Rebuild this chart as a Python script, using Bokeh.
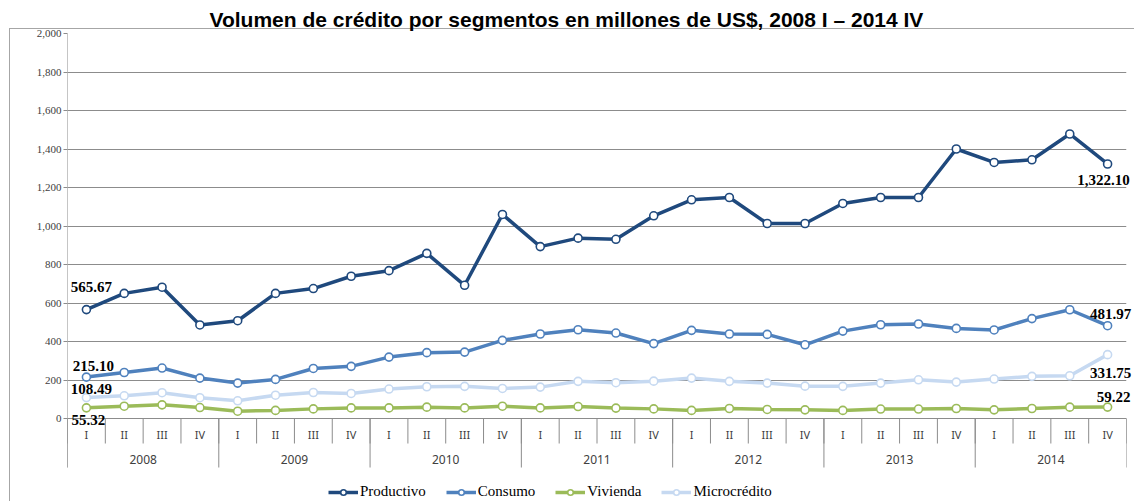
from bokeh.plotting import figure
from bokeh.models import (FactorRange, Range1d, FixedTicker, NumeralTickFormatter,
                          ColumnDataSource, Legend, LegendItem)
from bokeh.core.properties import value
from bokeh.embed import file_html
from bokeh.resources import INLINE

# ---------------- data ----------------
years = ["2008", "2009", "2010", "2011", "2012", "2013", "2014"]
quarters = ["I", "II", "III", "IV"]

productivo = [565.67, 650, 682, 486, 508, 650, 675, 739, 768, 858, 692, 1060,
              893, 937, 931, 1053, 1136, 1148, 1013, 1013, 1117, 1148, 1148, 1400,
              1330, 1344, 1478, 1322.10]
consumo = [215.10, 239, 262, 210, 184, 203, 260, 271, 319, 342, 345, 406,
           439, 461, 444, 389, 458, 439, 437, 383, 454, 487, 491, 468,
           460, 519, 565, 481.97]
vivienda = [55.32, 64, 71, 57, 38, 42, 50, 55, 55, 59, 55, 64,
            55, 62, 54, 50, 42, 52, 47, 45, 42, 49, 49, 52,
            45, 52, 59, 59.22]
microcredito = [108.49, 118, 134, 108, 92, 121, 135, 130, 153, 165, 167, 156,
                163, 193, 186, 194, 210, 193, 184, 168, 167, 184, 201, 189,
                205, 219, 222, 331.75]

series_names = ["Productivo", "Consumo", "Vivienda", "Microcrédito"]
series_values = [productivo, consumo, vivienda, microcredito]
y_ticks = list(range(0, 2001, 200))

title_text = "Volumen de crédito por segmentos en millones de US$, 2008 I – 2014 IV"

# ---------------- styles ----------------
colors = ["#1F497D", "#4F81BD", "#9BBB59", "#C6D9F1"]
grid_col = "#8c8c8c"
# data-label pixel offsets (first point, last point) per series
label_offsets = {
    "Productivo": ((5, -23), (-4, 16)),
    "Consumo": ((7, -11), (3, -12)),
    "Vivienda": ((2, 12), (6, -10)),
    "Microcrédito": ((5, -9), (3, 18)),
}

factors = [(y, q) for y in years for q in quarters]
n = len(factors)

FRAME_W = 1059
FRAME_H = 468
PX_PER_UNIT = 385 / 2000.0          # vertical scale: 0 -> 2000 spans 385 px
UNITS_PER_PX = 1 / PX_PER_UNIT
Y_MAX = 2000
Y_MIN = Y_MAX - FRAME_H * UNITS_PER_PX

p = figure(
    x_range=FactorRange(*factors, factor_padding=0, group_padding=0,
                        subgroup_padding=0, range_padding=0),
    y_range=Range1d(Y_MIN, Y_MAX),
    frame_width=FRAME_W, frame_height=FRAME_H,
    min_border_left=67, min_border_right=8, min_border_top=33, min_border_bottom=0,
    output_backend="svg", toolbar_location=None, title=title_text,
)
p.outline_line_color = None
p.background_fill_color = "white"
p.border_fill_alpha = 0
# outer chart-area border: only its left and top edges fall inside the picture
p.styles = {
    "background": ("linear-gradient(#a6a6a6,#a6a6a6) 9px 28px / 1px 100% no-repeat, "
                   "linear-gradient(#a6a6a6,#a6a6a6) 9px 28px / 100% 1px no-repeat, white"),
}

p.title.align = "left"
p.title.offset = 142
p.title.standoff = 6
p.title.text_font = "Liberation Sans"
p.title.text_font_style = "bold"
p.title.text_font_size = "21px"
p.title.text_color = "black"

p.xaxis.visible = False
p.xgrid.visible = False

p.yaxis.ticker = FixedTicker(ticks=y_ticks)
p.yaxis.formatter = NumeralTickFormatter(format="0,0")
p.yaxis.major_label_text_font = "Liberation Serif"
p.yaxis.major_label_text_font_size = "11px"
p.yaxis.major_label_text_color = "#404040"
p.yaxis.axis_line_color = None
p.yaxis.major_tick_line_color = grid_col
p.yaxis.major_tick_out = 4
p.yaxis.major_tick_in = 0
p.yaxis.minor_tick_line_color = None
p.yaxis.major_label_standoff = 2

p.ygrid.ticker = FixedTicker(ticks=y_ticks)
p.ygrid.grid_line_color = grid_col
p.ygrid.grid_line_width = 1

# vertical value-axis line (from the year row up to the top tick)
p.segment(x0=[0], y0=[-49 * UNITS_PER_PX], x1=[0], y1=[y_ticks[-1]],
          line_color=grid_col, line_width=1)

# --------- category axis drawn by hand (quarters and years) ---------
q_bounds = list(range(n + 1))
y_bounds = list(range(0, n + 1, len(quarters)))
p.segment(x0=q_bounds, y0=[0] * len(q_bounds), x1=q_bounds,
          y1=[-25 * UNITS_PER_PX] * len(q_bounds), line_color=grid_col, line_width=1)
p.segment(x0=y_bounds, y0=[0] * len(y_bounds), x1=y_bounds,
          y1=[-49 * UNITS_PER_PX] * len(y_bounds), line_color=grid_col, line_width=1)

p.text(x=factors, y=[0] * n, text=[f[1] for f in factors], y_offset=16,
       text_align="center", text_baseline="middle",
       text_font=value("Noto Sans"), text_font_size="11px", text_color="#404040")
p.text(x=years, y=[0] * len(years), text=years, y_offset=41,
       text_align="center", text_baseline="middle",
       text_font=value("Noto Sans"), text_font_size="12px", text_color="#404040")

# ---------------- series ----------------
items = []
for name, vals, col in zip(series_names, series_values, colors):
    src = ColumnDataSource(dict(x=factors, y=vals))
    lr = p.line("x", "y", source=src, line_color=col, line_width=3.5)
    sr = p.scatter("x", "y", source=src, marker="circle", size=8,
                   fill_color="white", line_color=col, line_width=1.6)
    items.append(LegendItem(label=name, renderers=[lr, sr]))

    (fx, fy), (lx, ly) = label_offsets[name]
    lsrc = ColumnDataSource(dict(
        x=[factors[0], factors[-1]], y=[vals[0], vals[-1]],
        t=["{:,.2f}".format(vals[0]), "{:,.2f}".format(vals[-1])],
        xo=[fx, lx], yo=[fy, ly]))
    tr = p.text("x", "y", text="t", x_offset="xo", y_offset="yo", source=lsrc,
                text_align="center", text_baseline="middle",
                text_font=value("Liberation Serif"), text_font_style="bold",
                text_font_size="15px", text_color="black")
    tr.level = "overlay"

legend = Legend(items=items, orientation="horizontal", location=(261, 1),
                label_text_font="Liberation Serif", label_text_font_size="15px",
                label_text_color="black", glyph_width=30, glyph_height=14,
                spacing=20, label_standoff=2, border_line_color=None,
                padding=0, margin=0, background_fill_alpha=0)
p.add_layout(legend, "center")

open("out.html", "w").write(file_html(p, INLINE))
